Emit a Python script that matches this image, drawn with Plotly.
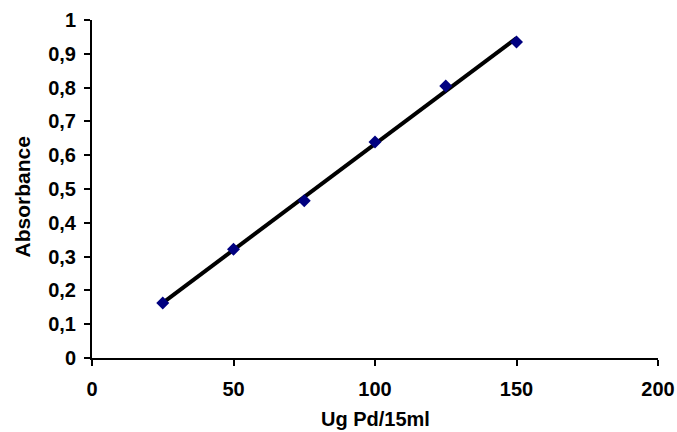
import numpy as np
import plotly.graph_objects as go

conc = [25, 50, 75, 100, 125, 150]
absorbance = [0.163, 0.322, 0.465, 0.639, 0.805, 0.935]

x_tick_vals = [0, 50, 100, 150, 200]
x_tick_text = ["0", "50", "100", "150", "200"]
y_tick_vals = [0, 0.1, 0.2, 0.3, 0.4, 0.5, 0.6, 0.7, 0.8, 0.9, 1.0]
y_tick_text = ["0", "0,1", "0,2", "0,3", "0,4", "0,5", "0,6", "0,7", "0,8", "0,9", "1"]

x_title = "Ug Pd/15ml"
y_title = "Absorbance"

slope, intercept = np.polyfit(conc, absorbance, 1)
fit_x = [min(conc), max(conc)]
fit_y = [slope * v + intercept for v in fit_x]

font_family = "Liberation Sans, Arial, sans-serif"
FS = 20

fig = go.Figure()
fig.add_trace(go.Scatter(
    x=fit_x, y=fit_y, mode="lines",
    line=dict(color="black", width=4),
    showlegend=False, cliponaxis=False,
))
fig.add_trace(go.Scatter(
    x=conc, y=absorbance, mode="markers",
    marker=dict(symbol="diamond", size=10, color="#000080"),
    showlegend=False, cliponaxis=False,
))

axis_common = dict(
    showgrid=False, zeroline=False, automargin=False,
    showline=True, linecolor="black", linewidth=2,
    ticks="outside", ticklen=6, tickwidth=2, tickcolor="black",
    tickfont=dict(family=font_family, size=FS, color="black"),
)

fig.update_layout(
    width=677, height=432,
    margin=dict(l=92, r=19, t=20, b=74),
    paper_bgcolor="white", plot_bgcolor="white",
    font=dict(family=font_family, size=FS, color="black"),
    xaxis=dict(range=[0, 200], tickmode="array", tickvals=x_tick_vals,
               ticktext=["<b>%s</b>" % t for t in x_tick_text],
               ticklabelstandoff=6, **axis_common),
    yaxis=dict(range=[0, 1], tickmode="array", tickvals=y_tick_vals,
               ticktext=["<b>%s</b>" % t for t in y_tick_text],
               ticklabelstandoff=4, **axis_common),
    annotations=[
        dict(text="<b>%s</b>" % x_title, xref="paper", yref="paper",
             x=0.5, y=0, xanchor="center", yanchor="middle", yshift=-61,
             showarrow=False, font=dict(family=font_family, size=FS, color="black")),
        dict(text="<b>%s</b>" % y_title, xref="paper", yref="paper",
             x=0, y=0.475, xanchor="center", yanchor="middle", xshift=-70,
             textangle=-90, showarrow=False,
             font=dict(family=font_family, size=FS + 1, color="black")),
    ],
)

fig.write_html("out.html", config={"displayModeBar": False},
               post_script="document.body.style.margin='0';document.body.style.overflow='hidden';")
